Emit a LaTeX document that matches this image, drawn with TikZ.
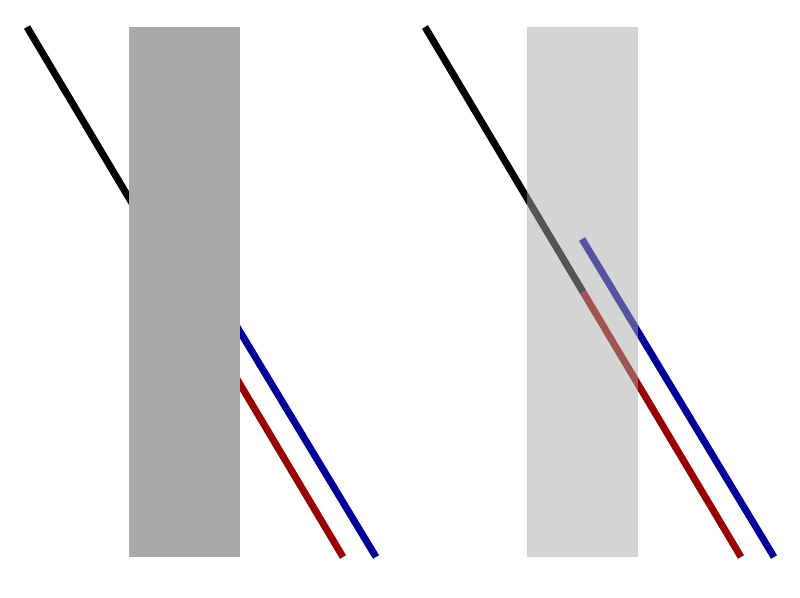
\documentclass[tikz,border=0pt]{standalone}
\usepackage{tikz}
\usetikzlibrary{positioning}
\definecolor{lineRed}{RGB}{153,0,0}
\definecolor{lineBlue}{RGB}{0,0,153}
\definecolor{barGray}{RGB}{169,169,169}

\begin{document}
\begin{tikzpicture}[x=0.025cm, y=-0.025cm,
        seg/.style={line width=0.175cm, line cap=butt},
        bar/.style={fill=barGray, draw=none}
      ]
        \useasboundingbox (0,0) rectangle (800,597);
        % Two panels: opaque bar on the left, see-through bar on the right
        \foreach \dx/\op in {0/1, 398/0.5} {
          \coordinate (top) at (27+\dx,27);
          \coordinate (mid) at (185+\dx,292);
          \coordinate (blueTop) at (184+\dx,239);
          \draw[seg, black] (top) -- (mid);
          \draw[seg, lineRed] (mid) -- (343+\dx,557);
          \draw[seg, lineBlue] (blueTop) -- (376+\dx,557);
          % Vertical bar on top of the lines
          \fill[bar, fill opacity=\op] (129+\dx,27) rectangle (240+\dx,557);
        }
      \end{tikzpicture}
\end{document}
